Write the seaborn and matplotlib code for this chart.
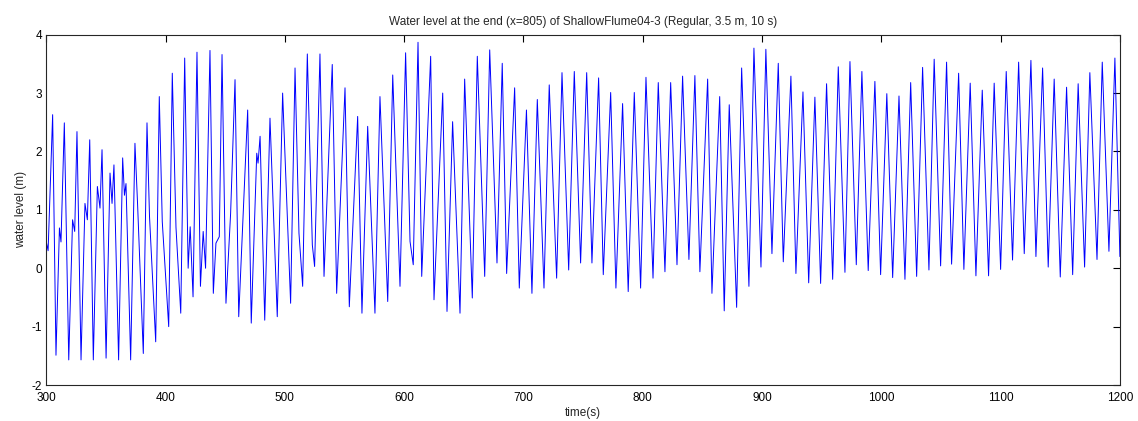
import numpy as np
import pandas as pd
import seaborn as sns
import matplotlib
matplotlib.use('Agg')
import matplotlib.pyplot as plt

# crest / trough / shoulder points (time in s, level in m)
time_s = [
    300.0, 301.5, 305.3, 308.1, 311.0, 312.3, 315.1, 318.8, 322.0, 323.8, 325.7, 329.1,
    332.4, 334.4, 336.4, 339.4, 342.8, 345.0, 346.7, 350.1, 353.4, 355.1, 356.7, 360.6,
    364.0, 365.5, 366.8, 370.7, 374.3, 376.5, 381.3, 384.4, 386.5, 391.7, 394.7, 397.2, 402.6,
    405.6, 408.7, 412.7, 416.0, 418.9, 420.6, 423.0, 426.3, 429.2, 431.5, 433.5, 437.2,
    440.0, 442.2, 445.0, 447.3, 450.6, 454.5, 458.2, 461.3, 468.8, 471.8, 476.4, 477.5,
    479.2, 483.1, 487.5, 493.6, 498.1,
    504.8, 508.5, 511.8, 514.9, 518.8, 523.0, 524.9, 529.4, 532.8, 539.7, 543.4, 550.4,
    554.0, 561.0, 564.6, 569.4, 575.5, 579.7, 586.2, 590.4, 596.5, 601.2,
    604.9, 607.6, 611.6, 614.7, 622.2, 625.0, 632.3, 635.9, 640.6, 646.8, 650.7, 657.1,
    661.3, 667.5, 671.7, 677.8, 682.2, 685.9, 692.6, 696.5, 702.5,
    707.1, 711.6, 717.2, 721.6, 727.8, 732.3, 737.9, 742.6, 747.9, 753.0, 757.4, 763.0,
    766.9, 773.1, 777.5, 783.1, 787.8, 792.9, 798.2, 802.7,
    808.6, 813.0, 818.6, 823.4, 828.7, 833.4, 838.7, 843.7, 847.9, 854.4, 858.0, 864.5,
    868.3, 872.5, 878.7, 882.9, 889.0, 893.2, 899.1, 903.2,
    908.3, 913.6, 917.8, 924.2, 928.4, 934.3, 939.1, 944.3, 949.1, 954.1, 959.2, 963.9,
    969.5, 973.7, 979.0, 983.7, 989.0, 994.6, 999.4, 1004.6,
    1009.5, 1014.8, 1019.8, 1024.6, 1029.6, 1034.6, 1039.9, 1044.3, 1049.7, 1054.7, 1058.9, 1064.8,
    1069.2, 1074.5, 1079.3, 1084.6, 1089.9, 1094.6, 1100.0, 1104.7,
    1110.0, 1115.1, 1119.8, 1125.4, 1129.6, 1135.2, 1139.9, 1144.9, 1150.0, 1155.3, 1160.4, 1165.0,
    1170.4, 1174.8, 1180.8, 1185.2, 1190.8, 1195.8, 1200.0,
]
level_m = [
    0.45, 0.30, 2.63, -1.49, 0.69, 0.45, 2.49, -1.57, 0.83, 0.63, 2.34, -1.57,
    1.11, 0.83, 2.20, -1.57, 1.40, 1.03, 2.03, -1.54, 1.63, 1.11, 1.77, -1.57,
    1.89, 1.25, 1.45, -1.57, 2.14, 1.10, -1.46, 2.49, 0.89, -1.26, 2.94, 0.80, -1.00,
    3.34, 0.70, -0.77, 3.60, 0.00, 0.71, -0.49, 3.70, -0.31, 0.63, 0.00, 3.73,
    -0.43, 0.43, 0.54, 3.66, -0.60, 0.94, 3.23, -0.83, 2.71, -0.94, 1.97, 1.80,
    2.26, -0.89, 2.57, -0.83, 3.00,
    -0.60, 3.43, 0.60, -0.31, 3.67, 0.40, 0.03, 3.67, -0.14, 3.49, -0.43, 3.09,
    -0.66, 2.60, -0.77, 2.43, -0.77, 2.94, -0.57, 3.31, -0.31, 3.69,
    0.46, 0.06, 3.87, -0.14, 3.63, -0.54, 3.00, -0.74, 2.51, -0.77, 3.24, -0.51,
    3.63, -0.14, 3.74, 0.09, 3.51, -0.09, 3.09, -0.34, 2.71,
    -0.43, 2.89, -0.34, 3.14, -0.17, 3.35, -0.03, 3.37, 0.09, 3.35, 0.09, 3.26,
    -0.11, 3.01, -0.34, 2.82, -0.40, 3.01, -0.34, 3.27,
    -0.17, 3.18, -0.06, 3.18, 0.06, 3.29, 0.15, 3.30, -0.06, 3.24, -0.43, 2.94,
    -0.73, 2.80, -0.67, 3.43, -0.31, 3.77, 0.02, 3.75,
    0.25, 3.51, 0.11, 3.29, -0.09, 3.02, -0.25, 2.93, -0.26, 3.16, -0.19, 3.45,
    -0.07, 3.54, 0.06, 3.37, -0.04, 3.20, -0.11, 2.99,
    -0.16, 2.95, -0.19, 3.18, -0.14, 3.44, -0.03, 3.58, 0.04, 3.53, 0.07, 3.34,
    -0.02, 3.17, -0.13, 3.05, -0.13, 3.17, -0.02, 3.37,
    0.14, 3.53, 0.25, 3.56, 0.20, 3.43, 0.02, 3.24, -0.15, 3.10, -0.11, 3.16,
    0.02, 3.35, 0.15, 3.53, 0.29, 3.60, 0.20,
]

x_ticks = [300, 400, 500, 600, 700, 800, 900, 1000, 1100, 1200]
y_ticks = [-2, -1, 0, 1, 2, 3, 4]

df = pd.DataFrame({'time': time_s, 'level': level_m})

sns.set_style('white')
plt.rcParams['font.family'] = ['Liberation Sans', 'DejaVu Sans']
plt.rcParams['axes.unicode_minus'] = False

fig = plt.figure(figsize=(11.38, 4.21), dpi=100)
ax = fig.add_axes([0.0407, 0.0855, 0.9434, 0.8321])

sns.lineplot(data=df, x='time', y='level', ax=ax, color='#0000ff',
             linewidth=0.7, estimator=None, sort=False)

ax.set_xlim(300, 1200)
ax.set_ylim(-2, 4)
ax.set_xticks(x_ticks)
ax.set_yticks(y_ticks)
ax.tick_params(direction='in', length=5, width=0.8, top=True, right=True,
               labelsize=8.5, colors='black')
ax.tick_params(axis='x', pad=5)
ax.tick_params(axis='y', pad=3)
for sp in ax.spines.values():
    sp.set_visible(True)
    sp.set_color('#262626')
    sp.set_linewidth(0.8)

ax.set_title('Water level at the end (x=805) of ShallowFlume04-3 (Regular, 3.5 m, 10 s)',
             fontsize=8.5, pad=7)
ax.set_xlabel('time(s)', fontsize=8.5, labelpad=2)
ax.set_ylabel('water level (m)', fontsize=8.5, labelpad=3)

fig.savefig('out.png', dpi=100)
